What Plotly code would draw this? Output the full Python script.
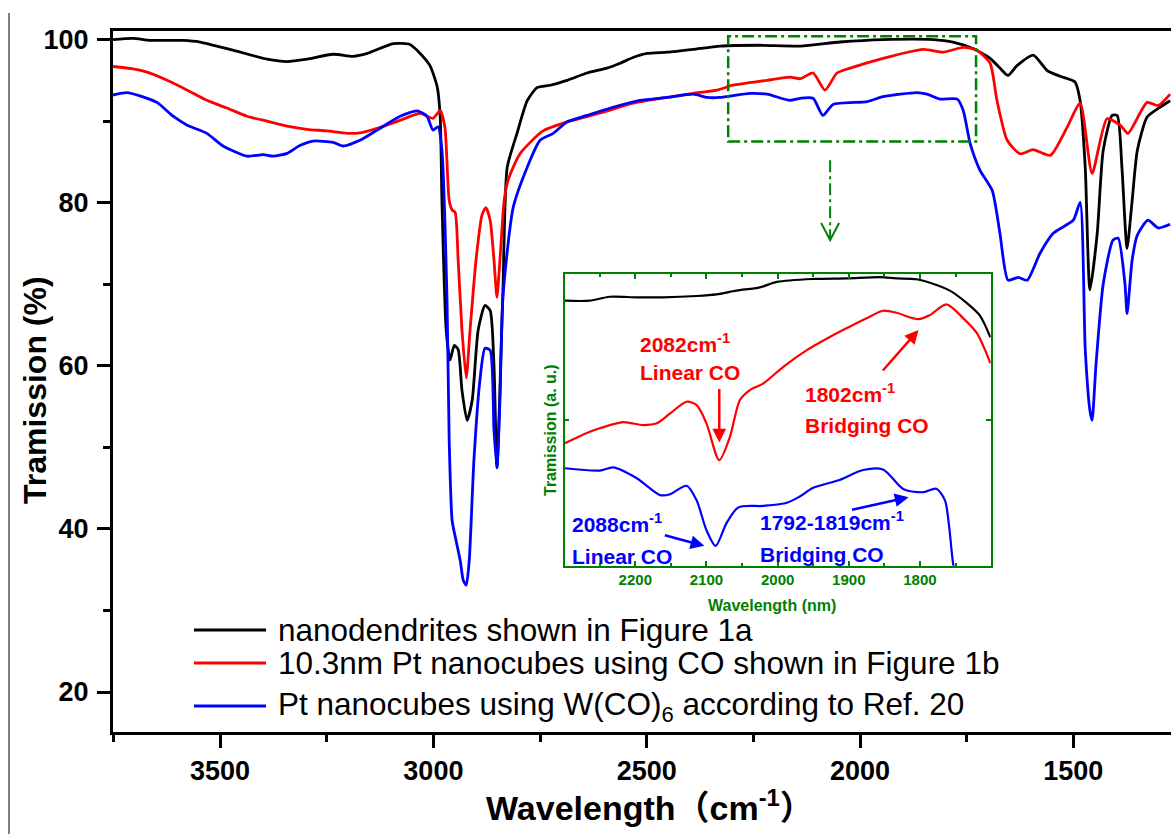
import plotly.graph_objects as go

# ---------------- main spectra (wavenumber cm-1, transmission %) ----------------
bk_x = [3751, 3704, 3664, 3587, 3547, 3470, 3390, 3343, 3296, 3235, 3188, 3155, 3094, 3055, 3031,
        3008, 2991, 2984, 2980, 2970, 2961, 2951, 2942, 2933, 2921, 2909, 2895, 2879, 2867, 2858,
        2851, 2837, 2827, 2804, 2780, 2757, 2726, 2687, 2640, 2593, 2562, 2532, 2499, 2452, 2391,
        2328, 2234, 2140, 2047, 1946, 1829, 1782, 1735, 1695, 1672, 1653, 1632, 1594, 1561, 1531,
        1496, 1484, 1472, 1461, 1444, 1430, 1409, 1397, 1386, 1374, 1362, 1350, 1327, 1297, 1273]
bk_y = [100.0, 100.15, 99.9, 99.9, 99.7, 98.7, 97.6, 97.3, 97.6, 98.2, 97.95, 98.3, 99.5, 99.4, 98.3,
        96.8, 94.2, 90.5, 80.3, 64.4, 60.7, 62.5, 62.0, 57.0, 53.3, 55.8, 64.4, 67.4, 66.8, 60.0,
        47.5, 69.2, 84.3, 88.5, 92.5, 94.1, 94.4, 95.0, 95.9, 96.5, 97.1, 97.8, 98.3, 98.45, 98.8,
        99.2, 99.3, 99.2, 99.7, 100.0, 100.0, 99.7, 98.9, 97.7, 96.5, 95.6, 96.8, 98.1, 96.2, 95.5,
        94.8, 92.5, 84.3, 69.3, 76.2, 86.4, 90.7, 90.7, 84.3, 74.4, 80.3, 86.4, 90.5, 91.7, 92.5]

rd_x = [3751, 3704, 3671, 3624, 3577, 3531, 3484, 3437, 3390, 3343, 3296, 3249, 3202, 3172, 3132,
        3078, 3031, 3001, 2984, 2973, 2963, 2956, 2949, 2942, 2933, 2923, 2914, 2900, 2886, 2877,
        2867, 2858, 2851, 2844, 2834, 2825, 2797, 2743, 2687, 2609, 2532, 2452, 2391, 2335, 2298,
        2218, 2164, 2140, 2110, 2082, 2054, 2023, 1946, 1852, 1805, 1758, 1726, 1695, 1679, 1655,
        1625, 1594, 1554, 1515, 1484, 1456, 1421, 1390, 1372, 1327, 1301, 1273]
rd_y = [96.7, 96.4, 96.0, 95.0, 93.8, 92.55, 91.6, 90.6, 90.0, 89.4, 89.0, 88.8, 88.5, 88.55, 89.1,
        90.1, 90.95, 90.35, 91.3, 89.25, 80.3, 79.1, 78.8, 73.0, 64.4, 58.5, 64.4, 73.0, 78.5, 79.4,
        77.85, 73.0, 68.4, 73.0, 80.3, 82.75, 86.0, 88.8, 89.9, 91.0, 92.2, 92.9, 93.4, 93.8, 94.4,
        95.0, 95.4, 95.2, 95.9, 93.8, 95.9, 96.5, 97.7, 98.8, 98.45, 99.05, 98.7, 97.1, 92.55, 87.65,
        86.0, 86.5, 85.8, 89.2, 92.2, 83.6, 90.3, 89.5, 88.5, 92.3, 91.9, 93.3]

bl_x = [3751, 3718, 3688, 3648, 3610, 3577, 3531, 3493, 3437, 3399, 3376, 3343, 3313, 3282, 3235,
        3212, 3172, 3132, 3078, 3038, 3015, 3001, 2989, 2980, 2968, 2963, 2956, 2947, 2937, 2930,
        2923, 2916, 2905, 2891, 2879, 2867, 2858, 2851, 2844, 2837, 2813, 2780, 2750, 2719, 2687,
        2640, 2579, 2516, 2452, 2391, 2358, 2328, 2258, 2218, 2164, 2140, 2110, 2087, 2063, 1983,
        1946, 1866, 1843, 1812, 1772, 1758, 1742, 1719, 1690, 1672, 1653, 1629, 1608, 1578, 1547,
        1500, 1484, 1472, 1461, 1456, 1447, 1430, 1407, 1395, 1379, 1374, 1362, 1350, 1325, 1301, 1273]
bl_y = [93.2, 93.5, 93.1, 92.3, 90.6, 89.5, 88.5, 86.95, 85.7, 85.9, 85.7, 86.05, 87.0, 87.55, 87.4,
        86.95, 87.65, 88.9, 90.6, 91.25, 90.6, 88.9, 89.3, 86.4, 68.0, 50.9, 41.0, 38.6, 36.1, 33.7,
        33.1, 36.1, 48.4, 58.2, 62.15, 61.9, 52.1, 47.5, 55.75, 68.4, 79.4, 84.35, 87.65, 88.5, 89.9,
        90.7, 91.7, 92.55, 92.9, 93.3, 92.9, 92.9, 93.4, 93.3, 92.55, 92.8, 92.8, 90.7, 92.05, 92.4,
        93.0, 93.5, 93.3, 92.7, 92.7, 91.3, 87.3, 84.0, 81.5, 76.25, 70.5, 70.85, 70.5, 73.8, 76.25,
        77.85, 80.05, 62.0, 54.5, 53.3, 60.0, 70.0, 75.4, 75.65, 70.1, 66.4, 73.0, 76.0, 77.85, 76.9, 77.35]

# ---------------- inset spectra (2300-1700 cm-1, arbitrary units) ----------------
in_bk_x = [2299, 2264, 2236, 2198, 2161, 2114, 2086, 2058, 2025, 2001, 1950, 1903, 1856, 1833, 1805,
           1786, 1758, 1734, 1716, 1701]
in_bk_y = [90.85, 90.85, 92.2, 92.0, 92.0, 92.45, 93.0, 94.3, 95.4, 97.3, 98.3, 98.5, 98.9, 98.5, 98.2,
           97.0, 94.3, 90.0, 85.8, 78.3]
in_rd_x = [2299, 2264, 2250, 2217, 2189, 2170, 2151, 2128, 2114, 2100, 2082, 2067, 2053, 2039, 2020,
           1992, 1959, 1926, 1899, 1875, 1852, 1833, 1802, 1786, 1763, 1739, 1720, 1701]
in_rd_y = [42.0, 45.9, 47.1, 49.2, 48.2, 48.8, 52.2, 56.2, 55.1, 48.8, 36.2, 44.2, 56.8, 60.2, 62.5,
           68.2, 73.9, 78.5, 81.9, 84.8, 87.4, 86.7, 84.5, 85.9, 89.6, 84.8, 79.7, 69.4]
in_bl_x = [2299, 2250, 2231, 2198, 2165, 2151, 2128, 2114, 2100, 2087, 2072, 2055, 2020, 1987, 1969,
           1950, 1913, 1880, 1852, 1823, 1795, 1777, 1765, 1759, 1753, 1745]
in_bl_y = [33.4, 32.6, 33.7, 30.0, 24.2, 24.5, 27.4, 22.5, 12.2, 6.8, 14.5, 20.0, 20.5, 21.6, 23.7,
           26.7, 29.4, 32.8, 33.0, 26.2, 25.2, 26.4, 22.5, 13.4, 0.0, -8.0]

series_names = ["nanodendrites shown in Figure 1a",
                "10.3nm Pt nanocubes using CO shown in Figure 1b",
                "Pt nanocubes using W(CO)<sub>6</sub> according to Ref. 20"]
colors = ["#000000", "#FF0000", "#0000FF"]
GREEN = "#008000"
FONT = "Liberation Sans, Arial, sans-serif"

fig = go.Figure()
for xs, ys, c in [(bk_x, bk_y, colors[0]), (rd_x, rd_y, colors[1]), (bl_x, bl_y, colors[2])]:
    fig.add_trace(go.Scatter(x=xs, y=ys, mode="lines", line=dict(color=c, width=2.8, shape="spline", smoothing=0.6),
                             showlegend=False, xaxis="x", yaxis="y", hoverinfo="skip"))
for xs, ys, c in [(in_bk_x, in_bk_y, colors[0]), (in_rd_x, in_rd_y, colors[1]), (in_bl_x, in_bl_y, colors[2])]:
    fig.add_trace(go.Scatter(x=xs, y=ys, mode="lines", line=dict(color=c, width=2.2, shape="spline", smoothing=0.8),
                             showlegend=False, xaxis="x2", yaxis="y2", hoverinfo="skip"))

W, H = 1171, 834
L, R, T, B = 113, 0, 31, 102
PW, PH = W - L - R, H - T - B
def px(p):
    return (p - L) / PW
def py(p):
    return (H - B - p) / PH

shapes = []
annotations = []

# manual legend
leg_rows = [630, 663, 706]
for name, c, ry in zip(series_names, colors, leg_rows):
    shapes.append(dict(type="line", xref="paper", yref="paper", x0=px(194), x1=px(266), y0=py(ry), y1=py(ry),
                       line=dict(color=c, width=3)))
    annotations.append(dict(text=name, xref="paper", yref="paper", x=px(276), y=py(ry), xanchor="left",
                            yanchor="middle", showarrow=False, font=dict(family=FONT, size=31.5, color="#000000")))

# page border line on the left
shapes.append(dict(type="line", xref="paper", yref="paper", x0=px(9), x1=px(9), y0=py(13), y1=py(834),
                   line=dict(color="#000000", width=1)))

# zoom rectangle and arrow (dash-dot green)
shapes.append(dict(type="rect", xref="x", yref="y", x0=2309, x1=1728, y0=87.5, y1=100.4,
                   line=dict(color=GREEN, width=2.5, dash="12px,4px,3px,4px")))
shapes.append(dict(type="line", xref="x", yref="y", x0=2070, x1=2070, y0=85.2, y1=75.6,
                   line=dict(color=GREEN, width=2, dash="12px,4px,3px,4px")))
shapes.append(dict(type="path", xref="x", yref="y", path="M 2091,77.5 L 2070,75.4 L 2049,77.5",
                   line=dict(color=GREEN, width=2)))

# inset annotations
def itxt(t, x, y, c):
    annotations.append(dict(text=t, xref="x2", yref="y2", x=x, y=y, xanchor="left", yanchor="middle",
                            showarrow=False, font=dict(family=FONT, size=21, color=c, weight="bold")))
itxt("2082cm<sup>-1</sup>", 2196, 76.5, colors[1])
itxt("Linear CO", 2196, 66.4, colors[1])
itxt("1802cm<sup>-1</sup>", 1964, 59.3, colors[1])
itxt("Bridging CO", 1964, 48.0, colors[1])
itxt("2088cm<sup>-1</sup>", 2292, 14.8, colors[2])
itxt("Linear CO", 2292, 3.3, colors[2])
itxt("1792-1819cm<sup>-1</sup>", 2028, 15.3, colors[2])
itxt("Bridging CO", 2028, 4.0, colors[2])

def iarrow(x, y, ax, ay, c):
    annotations.append(dict(text="", xref="x2", yref="y2", x=x, y=y, ax=ax, ay=ay, showarrow=True,
                            arrowhead=2, arrowsize=1.1, arrowwidth=2.5, arrowcolor=c))
iarrow(2082, 42.2, 0, -55, colors[1])
iarrow(1802, 80.8, -37, 42, colors[1])
iarrow(2103, 6.8, -41, -11, colors[2])
iarrow(1816, 23.5, -58, 13, colors[2])

# inset axis titles
annotations.append(dict(text="Tramission (a. u.)", xref="paper", yref="paper", x=px(550), y=py(430),
                        textangle=-90, showarrow=False, xanchor="center", yanchor="middle",
                        font=dict(family=FONT, size=16, color=GREEN, weight="bold")))
annotations.append(dict(text="Wavelength (nm)", xref="paper", yref="paper", x=px(772), y=py(605),
                        showarrow=False, xanchor="center", yanchor="middle",
                        font=dict(family=FONT, size=16, color=GREEN, weight="bold")))

# main axis titles
annotations.append(dict(text="Tramission (%)", xref="paper", yref="paper", x=px(35), y=py(390),
                        textangle=-90, showarrow=False, xanchor="center", yanchor="middle",
                        font=dict(family=FONT, size=32, color="#000000", weight="bold")))
annotations.append(dict(text="Wavelength\uff08cm<sup>-1</sup>\uff09", xref="paper", yref="paper", x=px(650), y=py(806),
                        showarrow=False, xanchor="center", yanchor="middle",
                        font=dict(family=FONT + ", Noto Sans CJK SC", size=34, color="#000000", weight="bold")))

fig.update_layout(
    width=W, height=H, margin=dict(l=L, r=R, t=T, b=B, pad=0),
    paper_bgcolor="white", plot_bgcolor="white", showlegend=False,
    shapes=shapes, annotations=annotations,
    xaxis=dict(domain=[0, 1], range=[3751, 1271], showgrid=False, zeroline=False,
               showline=True, linecolor="black", linewidth=3, mirror=True,
               ticks="outside", ticklen=13, tickwidth=3, tickcolor="black", dtick=500, tick0=0,
               minor=dict(dtick=250, ticks="outside", ticklen=7, tickwidth=3, tickcolor="black"),
               tickfont=dict(family=FONT, size=27, color="black", weight="bold")),
    yaxis=dict(domain=[0, 1], range=[15.1, 101.05], showgrid=False, zeroline=False,
               showline=True, linecolor="black", linewidth=3, mirror=False,
               ticks="outside", ticklen=13, tickwidth=3, tickcolor="black", dtick=20, tick0=0,
               ticklabelstandoff=3,
               minor=dict(dtick=10, ticks="outside", ticklen=7, tickwidth=3, tickcolor="black"),
               tickfont=dict(family=FONT, size=27, color="black", weight="bold")),
    xaxis2=dict(domain=[px(564.7), px(990.7)], anchor="y2", range=[2299.2, 1700.6], showgrid=False,
                zeroline=False, showline=True, linecolor=GREEN, linewidth=1.5, mirror="allticks",
                ticks="inside", ticklen=5, tickwidth=1.5, tickcolor=GREEN, dtick=100, tick0=0,
                minor=dict(dtick=50, ticks="inside", ticklen=3, tickwidth=1.5, tickcolor=GREEN),
                tickfont=dict(family=FONT, size=15, color=GREEN, weight="bold")),
    yaxis2=dict(domain=[py(565.7), py(274)], anchor="x2", range=[0, 100], showgrid=False,
                zeroline=False, showline=True, linecolor=GREEN, linewidth=1.5, mirror="allticks",
                ticks="inside", ticklen=5, tickwidth=1.5, tickcolor=GREEN, dtick=50, tick0=0,
                showticklabels=False),
)

fig.write_html("out.html")
